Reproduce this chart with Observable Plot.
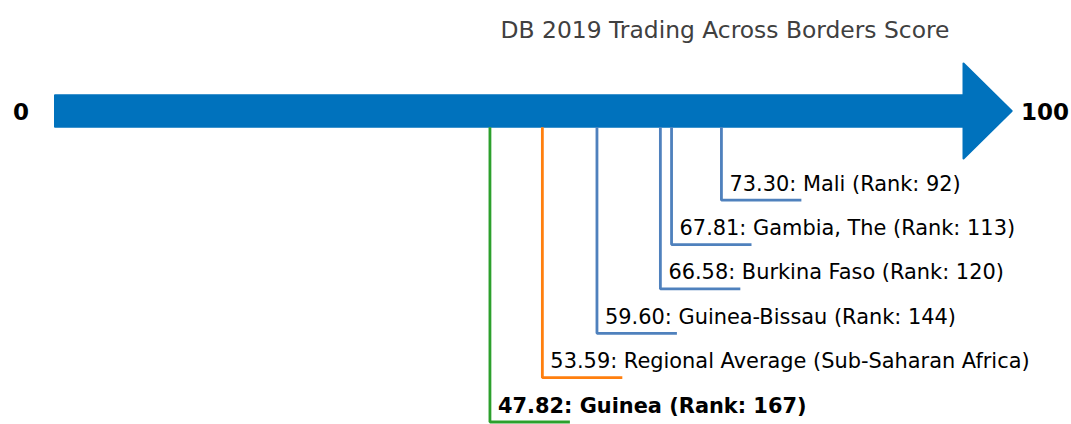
<!DOCTYPE html>
<html><head><meta charset="utf-8">
<script src="https://cdn.jsdelivr.net/npm/d3@7"></script>
<script src="https://cdn.jsdelivr.net/npm/@observablehq/plot@0.6"></script>
<style>body{margin:0;background:#fff} svg{display:block}</style>
</head><body><div id="chart"></div>
<script>
// ---- data ----
const title = "DB 2019 Trading Across Borders Score";
const names = ["Mali (Rank: 92)", "Gambia, The (Rank: 113)", "Burkina Faso (Rank: 120)", "Guinea-Bissau (Rank: 144)", "Regional Average (Sub-Saharan Africa)", "Guinea (Rank: 167)"];
const scores = [73.30, 67.81, 66.58, 59.60, 53.59, 47.82];
const kinds = ["peer", "peer", "peer", "peer", "regional", "focus"];
const endValues = [0, 100];
const endLabels = ["0", "100"];

// ---- styles ----
const colors = {peer: "#4f81bd", regional: "#ff7f0e", focus: "#2ca02c"};
const arrowColor = "#0072bd";

const arrowY = -1, bodyHalf = 0.356, headHalf = 1.07, headLen = 5.3, legLen = 8.8;
const rows = scores.map((s, i) => ({score: s, name: names[i], kind: kinds[i], level: i + 1}));

const arrow = [
  {x: endValues[0], y1: arrowY - bodyHalf, y2: arrowY + bodyHalf},
  {x: endValues[1], y1: arrowY - bodyHalf, y2: arrowY + bodyHalf},
  {x: endValues[1], y1: arrowY - headHalf, y2: arrowY + headHalf},
  {x: endValues[1] + headLen, y1: arrowY, y2: arrowY}
];

const connectors = rows.flatMap(r => [
  {id: r.name, kind: r.kind, x: r.score, y: arrowY + bodyHalf},
  {id: r.name, kind: r.kind, x: r.score, y: r.level},
  {id: r.name, kind: r.kind, x: r.score + legLen, y: r.level}
]);

const ends = endValues.map((v, i) => ({v, label: endLabels[i]}));
const labelText = d => `${d.score.toFixed(2)}: ${d.name}`;

const chart = Plot.plot({
  width: 1071,
  height: 424,
  margin: 0,
  style: {fontFamily: "'DejaVu Sans', sans-serif", background: "#fff"},
  x: {domain: [0, 100], range: [55, 963.5], axis: null},
  y: {domain: [-1, 6], range: [111, 421.5], axis: null},
  color: {type: "identity"},
  marks: [
    Plot.area(arrow, {x1: "x", y1: "y1", y2: "y2", fill: arrowColor, stroke: arrowColor, strokeWidth: 2, curve: "linear"}),
    Plot.line(connectors, {x: "x", y: "y", z: "id", stroke: d => colors[d.kind], strokeWidth: 2.8, strokeLinejoin: "miter", strokeLinecap: "butt", curve: "linear"}),
    Plot.text(rows, {filter: d => d.kind !== "focus", x: "score", y: "level", text: labelText, textAnchor: "start", lineAnchor: "bottom", dx: 8, dy: -9.5, fontSize: 20.9, fill: "#000"}),
    Plot.text(rows, {filter: d => d.kind === "focus", x: "score", y: "level", text: labelText, textAnchor: "start", lineAnchor: "bottom", dx: 8, dy: -9.5, fontSize: 20.9, fontWeight: "bold", fill: "#000"}),
    Plot.text(ends.slice(0, 1), {x: "v", y: () => arrowY, text: "label", textAnchor: "middle", dx: -34.5, dy: 1.5, fontSize: 23, fontWeight: "bold", fill: "#000"}),
    Plot.text(ends.slice(1), {x: "v", y: () => arrowY, text: "label", textAnchor: "start", dx: 57, dy: 1.5, fontSize: 23, fontWeight: "bold", fill: "#000"}),
    Plot.text([title], {frameAnchor: "top", dx: 189, dy: 37, lineAnchor: "bottom", fontSize: 23.4, fill: "#404040"})
  ]
});
document.getElementById("chart").appendChild(chart);
</script>
</body></html>
